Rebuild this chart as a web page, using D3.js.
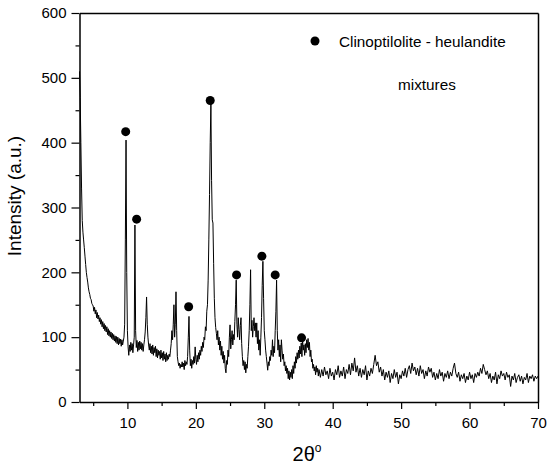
<!DOCTYPE html>
<html>
<head>
<meta charset="utf-8">
<script src="https://cdn.jsdelivr.net/npm/d3@7"></script>
<style>
  html, body { margin: 0; padding: 0; background: #fff; }
  svg { display: block; font-family: "Liberation Sans", Arial, sans-serif; }
</style>
</head>
<body>
<svg id="chart" width="550" height="468"></svg>
<script>
const width = 550, height = 468;
const margin = {top: 13, right: 12, bottom: 66, left: 79.5};

// scan 1: 3.0 -> 38.0 deg, step 0.1
const scanAStart = 3.0, scanAStep = 0.1;
const scanA = [
    510, 470, 400, 330, 280, 262, 250, 238, 225, 212,
    200, 192, 185, 176, 170, 166, 160, 158, 152, 150,
    148, 140, 146, 136, 142, 130, 138, 128, 134, 124,
    130, 120, 127, 116, 124, 113, 121, 110, 118, 108,
    116, 104, 113, 102, 110, 100, 108, 98, 106, 96,
    104, 94, 102, 92, 101, 90, 100, 88, 98, 90,
    97, 86, 96, 88, 94, 100, 120, 250, 404, 200,
    110, 85, 72, 88, 78, 92, 80, 90, 76, 88,
    100, 273, 110, 84, 95, 78, 92, 80, 94, 82,
    92, 80, 90, 78, 88, 96, 108, 130, 162, 120,
    100, 88, 80, 90, 76, 86, 74, 88, 72, 84,
    76, 86, 70, 82, 68, 80, 72, 78, 66, 80,
    68, 76, 64, 78, 66, 74, 62, 76, 64, 72,
    66, 74, 70, 80, 90, 110, 96, 120, 150, 100,
    120, 170, 110, 70, 62, 56, 60, 52, 58, 54,
    62, 54, 60, 50, 64, 56, 62, 58, 70, 100,
    132, 80, 56, 66, 52, 64, 58, 70, 60, 85,
    66, 58, 72, 62, 76, 66, 80, 72, 86, 78,
    92, 84, 100, 96, 116, 110, 140, 150, 188, 250,
    320, 400, 460, 342, 281, 276, 214, 160, 130, 115,
    106, 96, 110, 88, 100, 80, 94, 72, 86, 66,
    78, 60, 72, 52, 45, 64, 58, 80, 70, 100,
    119, 82, 96, 110, 88, 104, 96, 124, 150, 188,
    120, 100, 130, 112, 96, 118, 130, 90, 70, 56,
    64, 50, 62, 45, 58, 52, 70, 86, 110, 150,
    204, 110, 126, 100, 116, 130, 110, 122, 100, 122,
    90, 110, 80, 96, 72, 100, 130, 180, 217, 160,
    110, 96, 80, 70, 60, 49, 62, 56, 70, 64,
    80, 72, 96, 70, 86, 76, 110, 140, 188, 110,
    80, 96, 70, 88, 62, 96, 80, 66, 74, 56,
    62, 48, 56, 44, 52, 36, 48, 34, 46, 38,
    50, 36, 56, 44, 62, 52, 70, 60, 76, 66,
    80, 68, 86, 74, 91, 70, 96, 80, 88, 72,
    90, 76, 96, 84, 98, 80, 92, 70, 80, 62,
    66, 52, 58, 48, 54, 42, 56, 46, 52, 40,
    50
];

// scan 2: 38.2 -> 70.0 deg, step 0.2
const scanBStart = 38.2, scanBStep = 0.2;
const scanB = [
    38, 50, 40, 54, 42,  48, 36, 52, 40, 46,
    34, 50, 42, 56, 38,  48, 40, 54, 36, 50,
    44, 58, 42, 60, 48,  68, 46, 56, 40, 52,
    38, 50, 42, 56, 34,  48, 40, 52, 44, 58,
    72, 56, 62, 46, 54,  40, 50, 34, 46, 38,
    48, 30, 44, 36, 50,  38, 46, 28, 42, 36,
    48, 40, 52, 38, 50,  56, 44, 60, 48, 54,
    42, 52, 40, 56, 44,  50, 36, 48, 40, 54,
    46, 52, 38, 46, 34,  44, 36, 50, 40, 46,
    32, 44, 38, 48, 36,  46, 40, 52, 60, 44,
    38, 46, 32, 42, 36,  44, 30, 40, 34, 46,
    36, 42, 30, 44, 38,  46, 40, 52, 44, 58,
    50, 42, 48, 36, 44,  30, 40, 34, 46, 28,
    42, 36, 48, 40, 44,  34, 46, 38, 42, 24,
    40, 34, 44, 30, 38,  42, 32, 40, 28, 38,
    34, 44, 30, 40, 36,  42, 32, 40, 36, 40
];

// clinoptilolite - heulandite markers
const markerTheta = [9.75, 11.35, 18.95, 22.1, 25.95, 29.65, 31.6, 35.45];
const markerI = [417, 282, 147, 465, 196, 225, 196, 99];

const xTicks = [10, 20, 30, 40, 50, 60, 70];
const xMinor = [5, 15, 25, 35, 45, 55, 65];
const yTicks = [0, 100, 200, 300, 400, 500, 600];
const yMinor = [50, 150, 250, 350, 450, 550];

const legendLabel = ["Clinoptilolite - heulandite", "mixtures"];

const pattern = scanA.map((v, i) => [scanAStart + i * scanAStep, v])
    .concat(scanB.map((v, i) => [scanBStart + i * scanBStep, v]));

const svg = d3.select("#chart");
const innerW = width - margin.left - margin.right;
const innerH = height - margin.top - margin.bottom;

const x = d3.scaleLinear().domain([3, 70]).range([margin.left, margin.left + innerW]);
const y = d3.scaleLinear().domain([0, 600]).range([margin.top + innerH, margin.top]);

// pattern
const line = d3.line().x(d => x(d[0])).y(d => y(d[1]));
svg.append("path")
    .datum(pattern)
    .attr("fill", "none")
    .attr("stroke", "#000")
    .attr("stroke-width", 1)
    .attr("stroke-linejoin", "round")
    .attr("d", line);

// markers
svg.append("g").selectAll("circle")
    .data(markerTheta)
    .join("circle")
    .attr("cx", d => x(d))
    .attr("cy", (d, i) => y(markerI[i]))
    .attr("r", 4.5)
    .attr("fill", "#000");

// axes
const bottom = margin.top + innerH;
const styleAxis = g => {
    g.select(".domain").attr("stroke-width", 1.5);
    g.selectAll(".tick line").attr("stroke-width", 1.2);
    g.selectAll("text").attr("font-size", 15).attr("fill", "#000");
};

svg.append("g")
    .attr("transform", `translate(0,${bottom})`)
    .call(d3.axisBottom(x).tickValues(xMinor).tickSize(4).tickFormat(""))
    .call(g => g.select(".domain").remove())
    .call(g => g.selectAll(".tick line").attr("stroke-width", 1.2));
svg.append("g")
    .attr("transform", `translate(0,${bottom})`)
    .call(d3.axisBottom(x).tickValues(xTicks).tickSizeInner(7).tickSizeOuter(0).tickPadding(8))
    .call(styleAxis);

svg.append("g")
    .attr("transform", `translate(${margin.left},0)`)
    .call(d3.axisLeft(y).tickValues(yMinor).tickSize(4).tickFormat(""))
    .call(g => g.select(".domain").remove())
    .call(g => g.selectAll(".tick line").attr("stroke-width", 1.2));
svg.append("g")
    .attr("transform", `translate(${margin.left},0)`)
    .call(d3.axisLeft(y).tickValues(yTicks).tickSizeInner(8).tickSizeOuter(0).tickPadding(5))
    .call(styleAxis);

// top and right frame
svg.append("g")
    .attr("transform", `translate(0,${margin.top})`)
    .call(d3.axisTop(x).tickValues([]).tickSizeOuter(0))
    .call(g => g.select(".domain").attr("stroke-width", 1.5));
svg.append("g")
    .attr("transform", `translate(${margin.left + innerW},0)`)
    .call(d3.axisRight(y).tickValues([]).tickSizeOuter(0))
    .call(g => g.select(".domain").attr("stroke-width", 1.5));

// axis titles
svg.append("text")
    .attr("transform", "translate(21,196) rotate(-90)")
    .attr("text-anchor", "middle")
    .attr("font-size", 19)
    .text("Intensity (a.u.)");

const xt = svg.append("text")
    .attr("x", 307)
    .attr("y", 461)
    .attr("text-anchor", "middle")
    .attr("font-size", 20);
xt.append("tspan").text("2θ");
xt.append("tspan").attr("font-size", 12).attr("dy", -9).text("o");

// legend
svg.append("circle")
    .attr("cx", 315)
    .attr("cy", 41)
    .attr("r", 4.5)
    .attr("fill", "#000");
svg.append("text")
    .attr("x", 339)
    .attr("y", 47)
    .attr("font-size", 15.3)
    .text(legendLabel[0]);
svg.append("text")
    .attr("x", 398)
    .attr("y", 90)
    .attr("font-size", 15.3)
    .text(legendLabel[1]);
</script>
</body>
</html>
